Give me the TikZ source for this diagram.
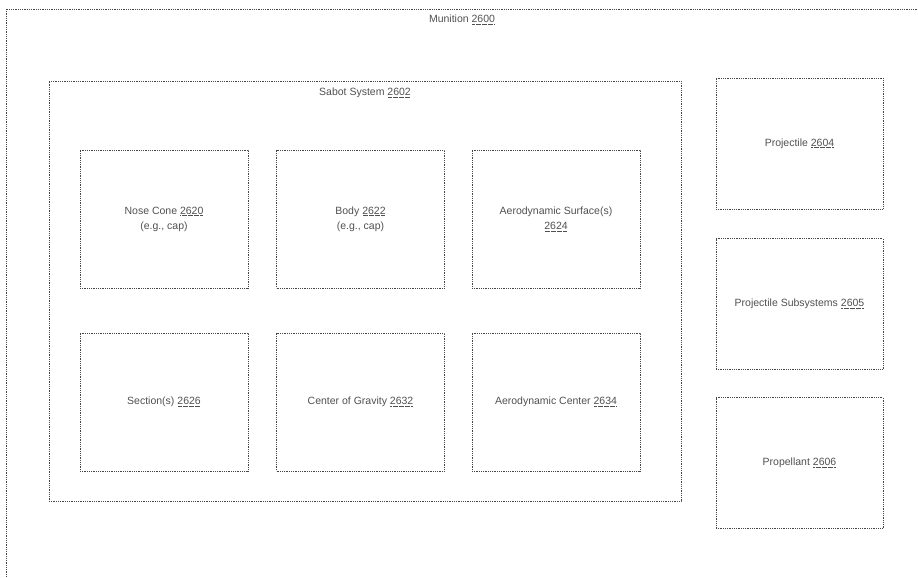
\documentclass[tikz,border=0pt]{standalone}
\usepackage{fontspec}
\setmainfont{Liberation Sans}
\usetikzlibrary{positioning}
\definecolor{linegray}{RGB}{70,70,70}
\definecolor{textgray}{RGB}{80,80,80}
\newsavebox{\refbox}
\newcommand{\refnum}[1]{\sbox{\refbox}{#1}%
  \rlap{\raisebox{-1.8pt}{\hbox to \wd\refbox{\leaders\hbox to 1.2pt{\hss\rule{0.6pt}{0.6pt}\hss}\hfill}}}\usebox{\refbox}}

\begin{document}
\begin{tikzpicture}[x=1pt,y=-1pt,
  box/.style={draw=linegray,densely dotted,line width=0.8pt,text=textgray,align=center,font=\fontsize{10.5}{15}\selectfont},
  part/.style={box,minimum width=168pt,minimum height=138pt},
  item/.style={box,minimum width=167pt,minimum height=131pt},
  title/.style={text=textgray,font=\fontsize{10.5}{15}\selectfont,inner sep=0pt}]
\clip (0,0) rectangle (918,578);
% outer box, open to the right and below
\draw[draw=linegray,densely dotted,line width=0.8pt] (6,9) rectangle (930,590);
\node[title] (mun) at (462,20) {Munition \refnum{2600}};
% sabot system
\node[box,minimum width=632pt,minimum height=420pt] (sabot) at (365,291) {};
\node[title] (sablbl) at (365,93) {Sabot System \refnum{2602}};
\node[part] (nose) at (164,219) {Nose Cone \refnum{2620}\\(e.g., cap)};
\node[part] (body) at (360.5,219) {Body \refnum{2622}\\(e.g., cap)};
\node[part] (aerosurf) at (556,219) {Aerodynamic Surface(s)\\\refnum{2624}};
\node[part] (section) at (164,402) {Section(s) \refnum{2626}};
\node[part] (cog) at (360.5,402) {Center of Gravity \refnum{2632}};
\node[part] (aerocen) at (556,402) {Aerodynamic Center \refnum{2634}};
% right column
\node[item] (proj) at (799.5,143.5) {Projectile \refnum{2604}};
\node[item] (projsub) at (799.5,304) {Projectile Subsystems \refnum{2605}};
\node[item] (prop) at (799.5,463) {Propellant \refnum{2606}};
\end{tikzpicture}
\end{document}
